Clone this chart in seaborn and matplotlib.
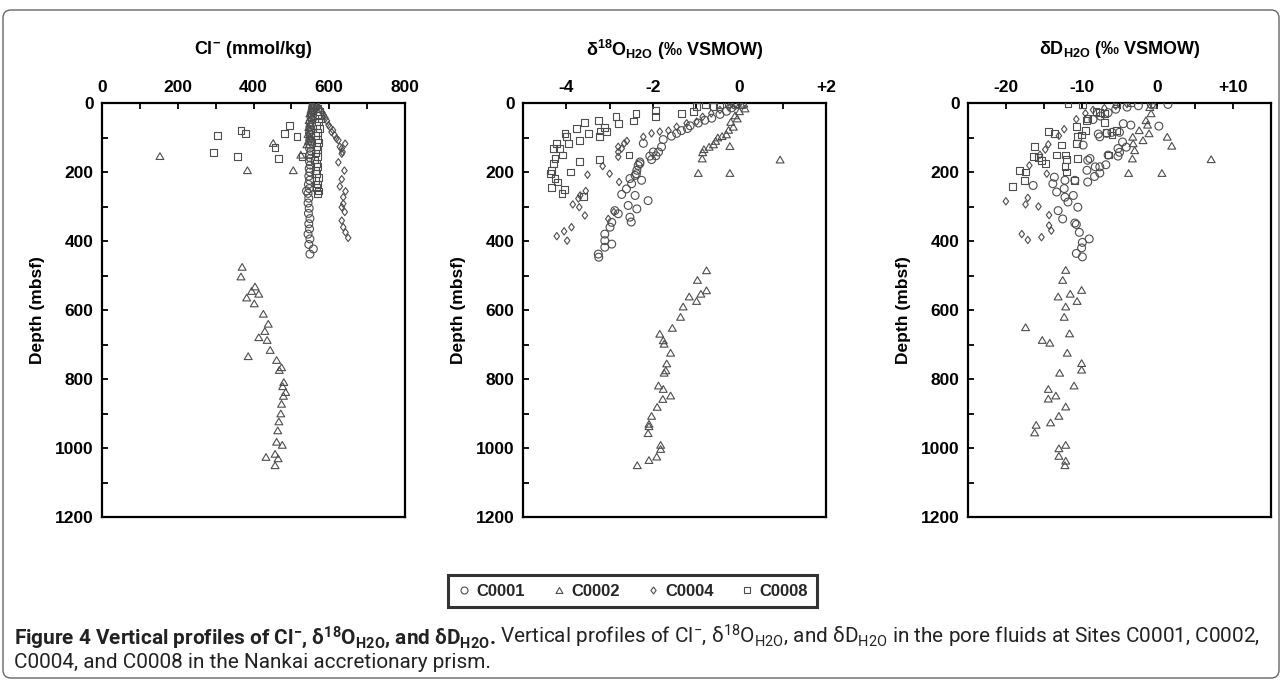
import numpy as np
import pandas as pd
import matplotlib
matplotlib.use("Agg")
import matplotlib.pyplot as plt
import seaborn as sns
from matplotlib.lines import Line2D
from matplotlib.patches import FancyBboxPatch
from matplotlib.transforms import IdentityTransform
from matplotlib.ticker import MultipleLocator, FixedLocator, FixedFormatter
from matplotlib.path import Path

# ---------------- data: (value, depth mbsf) ----------------
sites = ["C0001", "C0002", "C0004", "C0008"]

cl_C0001 = [(560,2),(558,5),(562,8),(556,12),(560,16),(555,20),(558,25),(553,30),(556,36),(552,42),(555,48),(550,55),(553,62),(549,70),(552,78),(548,86),(551,95),(549,104),(553,113),(550,122),(548,131),(552,140),(549,150),(551,160),(548,170),(550,180),(547,190),(549,200),(546,212),(548,224),(545,236),(547,248),(540,255),(544,262),(546,276),(544,290),(547,305),(545,320),(549,335),(546,350),(548,365),(544,380),(549,394),(546,410),(558,423),(549,438)]
cl_C0002 = [(556,10),(552,20),(549,30),(553,40),(547,50),(551,60),(546,70),(549,80),(544,90),(548,100),(545,110),(541,120),(452,116),(153,154),(525,150),(384,195),(505,195),
            (370,475),(367,503),(404,532),(395,545),(414,553),(382,564),(402,581),(426,611),(439,640),(430,661),(414,679),(436,687),(444,716),(386,734),(461,745),(474,766),(468,774),(480,809),(477,821),(485,838),(479,849),(474,872),(472,900),(467,923),(464,949),(461,982),(476,991),(457,1017),(433,1026),(465,1030),(457,1050)]
cl_C0004 = [(565,5),(572,12),(578,20),(582,28),(586,36),(590,44),(594,52),(598,64),(602,70),(610,79),(606,84),(614,93),(619,103),(624,108),(642,118),(628,127),(633,132),(635,142),(633,147),(624,172),(640,196),(633,221),(628,242),(643,256),(637,273),(637,292),(633,302),(641,316),(633,341),(637,360),(643,375),(650,391)]
cl_C0008 = [(565,5),(570,15),(575,25),(568,35),(578,45),(572,55),(566,65),(574,75),(570,85),(563,95),(568,105),(572,115),(566,125),(570,135),(564,145),(568,155),(562,165),(566,175),(570,185),(564,195),(567,205),(571,215),(565,225),(569,235),(566,245),(571,255),(568,263),
            (305,95),(294,144),(367,79),(379,89),(358,154),(495,66),(481,88),(515,97),(457,128),(466,161),(528,154)]

o_C0001 = [(-0.05,2),(-0.1,6),(-0.18,14),(-0.3,24),(-0.45,33),(-0.64,44),(-0.8,50),(-0.95,58),(-1.14,66),(-1.2,74),(-1.34,80),(-1.45,88),(-1.57,96),(-1.76,106),(-2.22,117),(-1.8,127),(-1.87,142),(-1.99,142),(-1.93,153),(-2.07,154),(-2.03,164),(-2.30,171),(-2.3,176),(-2.34,181),(-2.37,195),(-2.38,205),(-2.41,210),(-2.53,219),(-2.26,224),(-2.49,234),(-2.61,249),(-2.72,265),(-2.41,268),(-2.11,283),(-2.57,297),(-2.37,307),(-2.88,312),(-2.80,321),(-2.53,331),(-2.5,345),(-2.95,346),(-2.99,360),(-3.11,380),(-3.11,399),(-2.95,409),(-3.11,418),(-3.26,438),(-3.25,447)]
o_C0002 = [(0.1,2),(0.05,6),(0.13,16),(0.0,24),(-0.1,36),(-0.05,45),(-0.2,55),(-0.14,69),(-0.25,78),(-0.3,91),(-0.4,96),(-0.5,100),(-0.55,110),(-0.6,120),(-0.7,127),(-0.82,134),(-0.85,143),(-0.22,125),(-0.86,161),(0.94,164),(-0.95,203),(-0.22,203),
           (-0.76,485),(-0.97,513),(-0.76,543),(-0.89,553),(-1.16,561),(-0.99,574),(-1.30,590),(-1.36,620),(-1.55,652),(-1.84,669),(-1.76,688),(-1.74,698),(-1.59,724),(-1.68,755),(-1.70,775),(-1.74,782),(-1.87,819),(-1.76,829),(-1.59,848),(-1.77,858),(-1.90,881),(-2.03,907),(-2.09,930),(-2.09,937),(-2.11,957),(-1.82,991),(-1.82,1003),(-1.91,1025),(-2.09,1035),(-2.36,1050)]
o_C0004 = [(-0.1,5),(-0.25,12),(-0.45,20),(-0.65,30),(-0.85,40),(-0.99,54),(-1.22,59),(-1.45,69),(-1.64,80),(-1.84,83),(-2.03,88),(-2.22,98),(-2.6,110),(-2.66,117),(-2.8,127),(-2.72,132),(-2.8,142),(-2.8,156),(-3.16,183),(-3.0,205),(-3.51,208),(-2.78,229),(-3.55,255),(-3.68,268),(-3.72,277),(-3.85,294),(-3.70,302),(-2.9,316),(-3.57,326),(-3.03,336),(-3.88,360),(-4.05,372),(-4.22,386),(-3.98,399)]
o_C0008 = [(-0.26,3),(-0.45,6),(-0.61,9),(-0.78,5),(-0.99,11),(-1.07,25),(-1.34,30),(-1.93,22),(-1.94,40),(-2.39,30),(-2.44,52),(-2.80,59),(-2.85,40),(-3.26,50),(-3.12,71),(-3.07,83),(-3.22,81),(-3.24,98),(-3.49,88),(-3.57,57),(-3.76,74),(-3.70,108),(-4.03,88),(-4.0,98),(-4.22,117),(-3.95,118),(-4.30,132),(-4.15,132),(-4.09,151),(-4.26,161),(-4.30,176),(-4.34,195),(-4.37,205),(-4.26,219),(-4.2,229),(-4.34,244),(-4.05,251),(-4.1,262),(-3.70,169),(-3.24,164),(-2.55,151),(-3.90,200),(-3.61,271)]

d_C0001 = [(1.4,4),(-0.8,4),(-2.5,8),(-4.0,12),(-5.5,18),(-6.5,28),(-7.5,38),(-8.5,48),(0.2,67),(-3.5,64),(-4.5,60),(-5.0,85),(-6.0,85),(-6.7,88),(-7.6,98),(-7.8,90),(-4.6,113),(-9.8,122),(-4.1,128),(-5.2,132),(-5.0,143),(-6.5,151),(-5.2,154),(-8.9,161),(-9.2,166),(-6.8,179),(-7.6,185),(-8.2,185),(-9.3,195),(-7.6,203),(-8.3,213),(-13.6,215),(-12.2,224),(-10.9,224),(-9.2,229),(-13.8,234),(-16.4,239),(-12.3,248),(-13.3,258),(-11.1,268),(-12.2,273),(-11.8,287),(-10.5,302),(-13.1,312),(-12.5,336),(-10.9,348),(-10.7,352),(-10.3,375),(-9.0,394),(-9.9,404),(-10.0,420),(-10.7,436),(-9.9,446)]
d_C0002 = [(-0.5,5),(-1.0,12),(-0.83,30),(-1.5,50),(-1.3,63),(-2.4,79),(-1.1,88),(-3.25,98),(-1.9,108),(1.3,98),(1.9,124),(-3.2,117),(-3.0,137),(-3.3,161),(-3.8,203),(0.6,203),(7.1,163),
           (-12.1,484),(-12.5,513),(-10.0,542),(-11.5,553),(-13.1,561),(-10.6,574),(-12.1,590),(-12.3,620),(-17.4,650),(-11.6,668),(-15.2,687),(-14.2,695),(-11.9,724),(-10.0,754),(-10.0,773),(-12.9,782),(-11.0,819),(-14.4,829),(-13.4,848),(-14.4,857),(-12.1,880),(-13.0,907),(-14.1,926),(-16.0,933),(-16.2,955),(-12.1,991),(-13.0,1001),(-13.0,1023),(-12.1,1037),(-12.2,1050)]
d_C0004 = [(-4.0,3),(-5.5,8),(-7.0,15),(-8.5,20),(-9.5,30),(-10.7,47),(-12.3,76),(-13.0,95),(-14.4,120),(-14.8,135),(-15.5,150),(-16.9,181),(-14.6,205),(-17.1,275),(-20.0,285),(-17.4,294),(-15.7,300),(-14.3,325),(-14.3,355),(-14.0,370),(-17.9,380),(-15.3,389),(-17.1,397)]
d_C0008 = [(-11.8,1),(-9.9,6),(-5.4,1),(-3.5,0),(-7.6,27),(-8.1,25),(-9.2,45),(-7.0,30),(-9.4,50),(-7.0,57),(-10.7,69),(-5.4,79),(-9.5,79),(-14.4,83),(-13.6,88),(-6.0,93),(-10.0,93),(-10.5,98),(-6.7,86),(-10.7,117),(-12.7,122),(-16.2,127),(-12.1,151),(-13.3,151),(-6.5,151),(-16.4,156),(-15.7,158),(-10.5,161),(-12.0,163),(-15.3,166),(-14.8,176),(-12.2,185),(-18.2,195),(-17.4,200),(-12.0,200),(-17.5,224),(-10.9,224),(-19.1,242)]

panel_titles = [r"Cl$^{-}$ (mmol/kg)", r"δ$^{18}$O$_{H2O}$ (‰ VSMOW)", r"δD$_{H2O}$ (‰ VSMOW)"]
x_limits = [(0, 800), (-5, 2), (-25, 15)]
x_major = [[0, 200, 400, 600, 800], [-4, -2, 0, 2], [-20, -10, 0, 10]]
x_labels = [["0", "200", "400", "600", "800"], ["-4", "-2", "0", "+2"], ["-20", "-10", "0", "+10"]]
x_minor = [100, 1, 5]
y_major = [0, 200, 400, 600, 800, 1000, 1200]
caption_bold = r"Figure 4 Vertical profiles of Cl$^{-}$, δ$^{18}$O$_{H2O}$, and δD$_{H2O}$."
caption_rest1 = r"Vertical profiles of Cl$^{-}$, δ$^{18}$O$_{H2O}$, and δD$_{H2O}$ in the pore fluids at Sites C0001, C0002,"
caption_rest2 = "C0004, and C0008 in the Nankai accretionary prism."

panel_data = [
    {"C0001": cl_C0001, "C0002": cl_C0002, "C0004": cl_C0004, "C0008": cl_C0008},
    {"C0001": o_C0001, "C0002": o_C0002, "C0004": o_C0004, "C0008": o_C0008},
    {"C0001": d_C0001, "C0002": d_C0002, "C0004": d_C0004, "C0008": d_C0008},
]

rows = []
for p, dd in enumerate(panel_data):
    for site, pts in dd.items():
        for v, d in pts:
            rows.append({"panel": p, "site": site, "value": v, "depth": d})
df = pd.DataFrame(rows)

# ---------------- style ----------------
sns.set_theme(style="white")
plt.rcParams['font.family'] = ['Liberation Sans', 'DejaVu Sans']
plt.rcParams['font.weight'] = 'bold'
plt.rcParams['mathtext.default'] = 'regular'

EC = "#4d4d4d"
tri = Path([(0, 0.85), (-1, -0.85), (1, -0.85), (0, 0.85)], [1, 2, 2, 79])
dia = Path([(0, 1), (0.75, 0), (0, -1), (-0.75, 0), (0, 1)], [1, 2, 2, 2, 79])
markers = {"C0001": "o", "C0002": tri, "C0004": dia, "C0008": "s"}
sizes = {"C0001": 32, "C0002": 32, "C0004": 28, "C0008": 24}

W, H = 1282, 680
fig = plt.figure(figsize=(W / 100, H / 100), dpi=100)

lefts = [102, 523, 968]
ax_w, top_px, bot_px = 303, 103, 517

for p in range(3):
    ax = fig.add_axes([lefts[p] / W, 1 - bot_px / H, ax_w / W, (bot_px - top_px) / H])
    sub = df[df.panel == p]
    for site in sites:
        s = sub[sub.site == site]
        sns.scatterplot(data=s, x="value", y="depth", marker=markers[site], s=sizes[site],
                        facecolor="none", edgecolor=EC, linewidth=0.8, ax=ax, legend=False,
                        zorder=3)
    ax.set_xlim(*x_limits[p])
    ax.set_ylim(1200, 0)
    ax.xaxis.tick_top()
    ax.xaxis.set_major_locator(FixedLocator(x_major[p]))
    ax.xaxis.set_major_formatter(FixedFormatter(x_labels[p]))
    ax.xaxis.set_minor_locator(MultipleLocator(x_minor[p]))
    ax.yaxis.set_major_locator(FixedLocator(y_major))
    ax.yaxis.set_minor_locator(MultipleLocator(100))
    ax.tick_params(axis="both", which="both", direction="in", top=True, bottom=False,
                   left=True, right=False, length=4, width=1.3, color="black",
                   labelsize=12.5, labelcolor="black", pad=6)
    ax.tick_params(axis="x", which="both", labeltop=True, labelbottom=False)
    ax.set_xlabel("")
    ax.set_ylabel("Depth (mbsf)", fontsize=12.5, fontweight="bold", labelpad=7, color="black")
    for lab in ax.get_xticklabels() + ax.get_yticklabels():
        lab.set_fontweight("bold")
    for sp in ax.spines.values():
        sp.set_visible(True)
        sp.set_linewidth(1.6)
        sp.set_color("black")
    ax.text(0.5, 1 + 53 / (bot_px - top_px), panel_titles[p], transform=ax.transAxes,
            ha="center", va="center", fontsize=13, fontweight="bold", color="black")

# legend
handles = [Line2D([], [], ls="none", marker=markers[s], markersize=5, mfc="none", mec=EC,
                  mew=0.8) for s in sites]
leg = fig.legend(handles, sites, loc="center", bbox_to_anchor=(632 / W, 1 - 591 / H),
                 ncol=4, frameon=True, fancybox=False, handletextpad=0.25, columnspacing=1.5,
                 handlelength=1.0, borderpad=0.5, borderaxespad=0,
                 prop={"weight": "bold", "size": 12})
leg.get_frame().set_edgecolor("black")
leg.get_frame().set_linewidth(2.2)

# outer rounded frame
frame = FancyBboxPatch((3, 2), 1276, 668, boxstyle="round,pad=0,rounding_size=8",
                       transform=IdentityTransform(), fill=False, edgecolor="#666666",
                       linewidth=1.0)
fig.patches.append(frame)

# caption: one size, chosen so that the first line spans the same width as the original
cap_family = ["Roboto", "DejaVu Sans"]
renderer = fig.canvas.get_renderer()
x0, x_end, gap = 14, 1262, 4
base = 10.0
tb = fig.text(0, 0, caption_bold, fontweight="bold", family=cap_family, fontsize=base)
tr = fig.text(0, 0, caption_rest1, fontweight="normal", family=cap_family, fontsize=base)
wsum = tb.get_window_extent(renderer).width + tr.get_window_extent(renderer).width
tb.remove(); tr.remove()
cap_size = base * (x_end - x0 - gap) / wsum
cap_kw = dict(family=cap_family, fontsize=cap_size, color="#222222", va="baseline")
t1 = fig.text(x0 / W, 1 - 644 / H, caption_bold, fontweight="bold", **cap_kw)
bb = t1.get_window_extent(renderer)
t2 = fig.text((bb.x1 + gap) / W, 1 - 644 / H, caption_rest1, fontweight="normal", **cap_kw)
t3 = fig.text(x0 / W, 1 - 668 / H, caption_rest2, fontweight="normal", **cap_kw)

fig.savefig("out.png", dpi=100, facecolor="white")
